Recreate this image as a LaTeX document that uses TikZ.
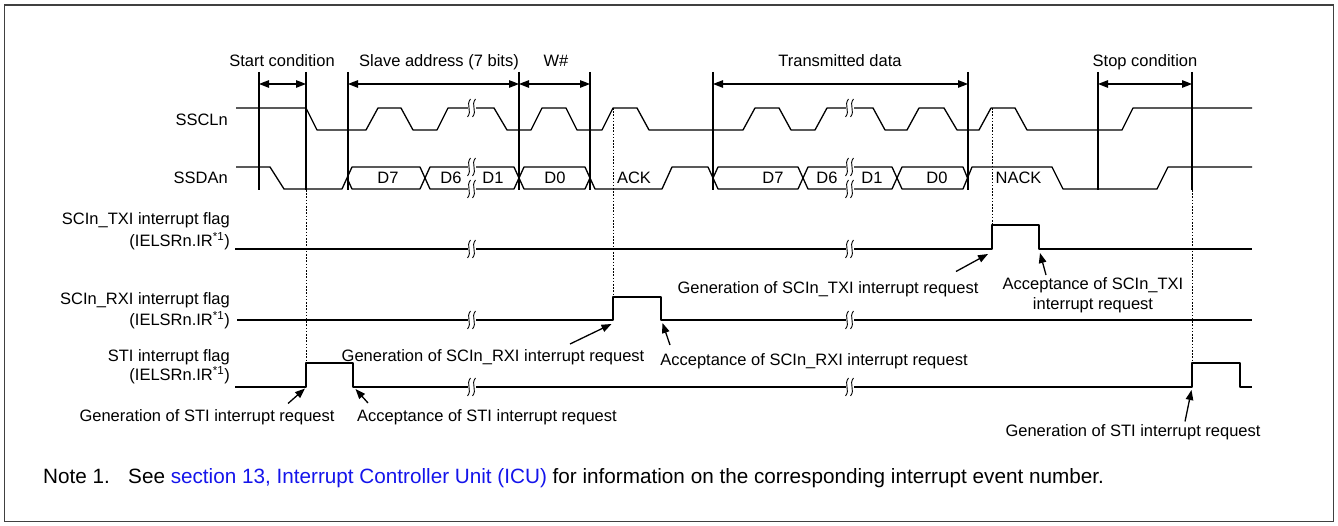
\documentclass[tikz,border=0pt]{standalone}
\usepackage{fontspec}
\setmainfont{Liberation Sans}
\usetikzlibrary{arrows.meta}
\definecolor{linkblue}{RGB}{20,20,235}
\definecolor{framegray}{RGB}{64,64,64}
\newcommand\brkmark[2]{%
  \fill[white] (#1-1.5,#2-2.4) rectangle (#1+6.5,#2+2.4);
  \draw[line width=0.9pt] (#1+1.5,#2-9) .. controls (#1-3.5,#2-3) and (#1+3.5,#2+3) .. (#1-1.5,#2+9);
  \draw[line width=0.9pt] (#1+6.5,#2-9) .. controls (#1+1.5,#2-3) and (#1+8.5,#2+3) .. (#1+3.5,#2+9);
}
\begin{document}
\begin{tikzpicture}[x=1pt,y=-1pt,
  sig/.style={line width=1.3pt, line join=round},
  vline/.style={line width=1.3pt},
  dots/.style={line width=1pt, dash pattern=on 1.6pt off 1.6pt},
  dim/.style={line width=1.3pt, {Triangle[length=10pt,width=7.5pt]}-{Triangle[length=10pt,width=7.5pt]}},
  ptr/.style={line width=1.3pt, -{Triangle[length=10pt,width=7.5pt]}},
  lbl/.style={inner sep=0pt, anchor=base, font=\fontsize{16.5}{19}\selectfont},
  rlbl/.style={inner sep=0pt, anchor=base east, font=\fontsize{16.5}{19}\selectfont},
  notetxt/.style={inner sep=0pt, anchor=base west, font=\fontsize{20.7}{24}\selectfont},
  frame/.style={draw=framegray, line width=1.5pt}]
\useasboundingbox (0,0) rectangle (1338,526);
\draw[frame] (4.5,5) rectangle (1333.5,521.5);

% top labels
\node[lbl] (tStart) at (282,66.5) {Start condition};
\node[lbl] (tSlave) at (439,66.5) {Slave address (7 bits)};
\node[lbl] (tW) at (556,66.5) {W\#};
\node[lbl] (tData) at (840,66.5) {Transmitted data};
\node[lbl] (tStop) at (1145,66.5) {Stop condition};

% vertical reference lines
\foreach \x/\n in {259/a,306/b,348/c,519/d,590/e,713/f,968/g,1098/h,1192/i}{
  \coordinate (\n t) at (\x,72);
  \coordinate (\n m) at (\x,84);
  \coordinate (\n b) at (\x,190);
  \draw[vline] (\n t) -- (\n b);
}
\draw[dim] (am) -- (bm);
\draw[dim] (cm) -- (dm);
\draw[dim] (dm) -- (em);
\draw[dim] (fm) -- (gm);
\draw[dim] (hm) -- (im);

% signal names
\node[rlbl] (lSCL) at (228,125.5) {SSCLn};
\node[rlbl] (lSDA) at (228,184) {SSDAn};
\node[rlbl] (lTX1) at (230,224.3) {SCIn\_TXI interrupt flag};
\node[rlbl] (lTX2) at (230,246.7) {(IELSRn.IR\textsuperscript{*1})};
\node[rlbl] (lRX1) at (230,305) {SCIn\_RXI interrupt flag};
\node[rlbl] (lRX2) at (230,325.5) {(IELSRn.IR\textsuperscript{*1})};
\node[rlbl] (lST1) at (230,361) {STI interrupt flag};
\node[rlbl] (lST2) at (230,380.7) {(IELSRn.IR\textsuperscript{*1})};

% SSCLn
\draw[sig] (236,108) -- (306,108) -- (317,130) -- (366,130) -- (378,108) -- (401,108) -- (413,130)
  -- (437,130) -- (448,108) -- (494,108) -- (507,130) -- (531,130) -- (542,108) -- (566,108)
  -- (577,130) -- (602,130) -- (613,108) -- (637,108) -- (649,130) -- (743,130) -- (755,108)
  -- (779,108) -- (791,130) -- (815,130) -- (827,108) -- (873,108) -- (885,130) -- (907,130)
  -- (919,108) -- (944,108) -- (957,130) -- (979,130) -- (991,108) -- (1015,108) -- (1027,130)
  -- (1122,130) -- (1133,108) -- (1252,108);

% SSDAn
\draw[sig] (236,167) -- (270,167) -- (284,189) -- (342,189) -- (352,167) -- (420,167) -- (430,189)
  -- (514,189) -- (524,167) -- (585,167) -- (595,189) -- (662,189) -- (672,167) -- (708,167)
  -- (718,189) -- (798,189) -- (808,167) -- (892,167) -- (902,189) -- (963,189) -- (972,167)
  -- (1052,167) -- (1063,189) -- (1157,189) -- (1168,167) -- (1252,167);
\draw[sig] (347,178) -- (352,189) -- (420,189) -- (430,167) -- (514,167) -- (524,189) -- (585,189) -- (590,178);
\draw[sig] (713,178) -- (718,167) -- (798,167) -- (808,189) -- (892,189) -- (902,167) -- (963,167) -- (967.5,178);

\node[lbl] (d7a) at (388,184) {D7};
\node[lbl] (d6a) at (451,184) {D6};
\node[lbl] (d1a) at (493,184) {D1};
\node[lbl] (d0a) at (555,184) {D0};
\node[lbl] (ack) at (634,184) {ACK};
\node[lbl] (d7b) at (773,184) {D7};
\node[lbl] (d6b) at (827,184) {D6};
\node[lbl] (d1b) at (872,184) {D1};
\node[lbl] (d0b) at (937,184) {D0};
\node[lbl] (nack) at (1018.5,184) {NACK};

% interrupt flags
\draw[sig] (235,249) -- (992,249) -- (992,225) -- (1039,225) -- (1039,249) -- (1252,249);
\draw[sig] (237,320) -- (613,320) -- (613,297) -- (661,297) -- (661,320) -- (1252,320);
\draw[sig] (235,387) -- (306,387) -- (306,363) -- (353,363) -- (353,387) -- (1192,387)
  -- (1192,363) -- (1240,363) -- (1240,387) -- (1252,387);

% break marks
\foreach \y in {108,167,189,249,320,387}{
  \brkmark{469}{\y}
  \brkmark{847}{\y}
}

% dotted guides
\coordinate (gb1) at (306,190);
\coordinate (ge1) at (306,363);
\coordinate (gb2) at (613,108);
\coordinate (ge2) at (613,297);
\coordinate (gb3) at (992,108);
\coordinate (ge3) at (992,225);
\coordinate (gb4) at (1192,190);
\coordinate (ge4) at (1192,363);
\draw[dots] (gb1) -- (ge1);
\draw[dots] (gb2) -- (ge2);
\draw[dots] (gb3) -- (ge3);
\draw[dots] (gb4) -- (ge4);

% annotations
\node[lbl] (gSTIa) at (207,421) {Generation of STI interrupt request};
\node[lbl] (aSTI) at (487,421) {Acceptance of STI interrupt request};
\node[lbl] (gRXI) at (493,361) {Generation of SCIn\_RXI interrupt request};
\node[lbl] (aRXI) at (814,365.7) {Acceptance of SCIn\_RXI interrupt request};
\node[lbl] (gTXI) at (828,294) {Generation of SCIn\_TXI interrupt request};
\node[lbl] (aTXI1) at (1093,290) {Acceptance of SCIn\_TXI};
\node[lbl] (aTXI2) at (1093,309.3) {interrupt request};
\node[lbl] (gSTIb) at (1133,436) {Generation of STI interrupt request};

\coordinate (p1s) at (288,403.5);  \coordinate (p1e) at (305,388.5);
\coordinate (p2s) at (368,403);    \coordinate (p2e) at (355.5,389);
\coordinate (p3s) at (570,344);    \coordinate (p3e) at (611.5,324);
\coordinate (p4s) at (670,345);    \coordinate (p4e) at (662.5,323);
\coordinate (p5s) at (956,271.5);  \coordinate (p5e) at (988,254);
\coordinate (p6s) at (1046,275);   \coordinate (p6e) at (1040,253);
\coordinate (p7s) at (1185,421.5); \coordinate (p7e) at (1191.5,390);
\foreach \i in {1,...,7}{ \draw[ptr] (p\i s) -- (p\i e); }

% note
\node[notetxt] (noteA) at (43,483.5) {Note 1.};
\node[notetxt] (noteB) at (128,483.5)
  {See \textcolor{linkblue}{section 13, Interrupt Controller Unit (ICU)} for information on the corresponding interrupt event number.};
\end{tikzpicture}
\end{document}
